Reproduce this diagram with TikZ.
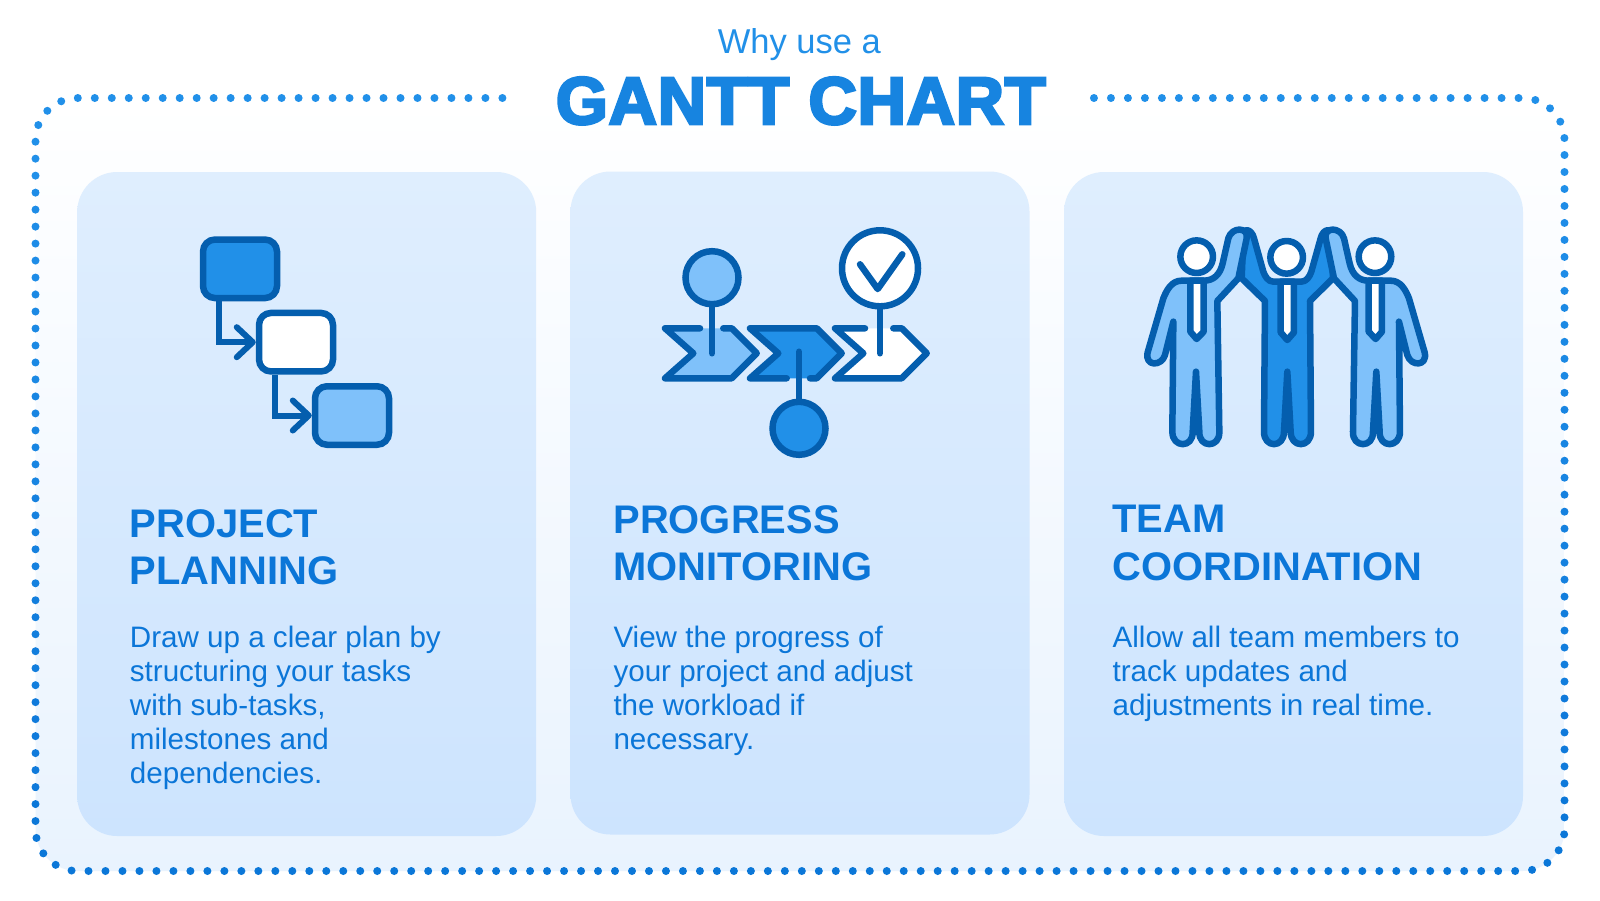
\documentclass[tikz,border=0pt]{standalone}
\usepackage{fontspec}
\setmainfont{Liberation Sans}
\newfontfamily\titlefont[UprightFont={* Bold},FakeBold=4,LetterSpace=1]{Liberation Sans}
\usetikzlibrary{arrows.meta}
\definecolor{dotblue}{HTML}{2190E9}
\definecolor{textblue}{HTML}{0B76D8}
\definecolor{titleblue}{HTML}{1784E0}
\definecolor{linkblue}{HTML}{045EAE}
\definecolor{midblue}{HTML}{2190E8}
\definecolor{paleblue}{HTML}{7FC1FA}
\definecolor{cardtop}{HTML}{DFEEFE}
\definecolor{cardlow}{HTML}{CDE4FE}
\definecolor{lowblue}{HTML}{E9F3FE}
\tikzset{
    cardbox/.style={rectangle, rounded corners=40pt, inner sep=0pt, minimum width=459pt, minimum height=664pt, top color=cardtop, bottom color=cardlow},
    headtext/.style={font=\bfseries\fontsize{39.9}{47.4}\selectfont, text=textblue, align=left, inner sep=0pt, anchor=north west},
    bodytext/.style={font=\fontsize{29.6}{34}\selectfont, text=textblue, align=left, inner sep=0pt, anchor=north west},
    dotframe/.style={line width=8pt, line cap=round, dash pattern=on 0pt off 16.984pt},
    planbox/.style={draw=linkblue, line width=6.5pt, rectangle, rounded corners=12pt, inner sep=0pt, minimum width=74pt, minimum height=58.5pt},
    flowarrow/.style={draw=linkblue, line width=6pt, -{Straight Barb[length=16pt, width=30pt, round, line width=6pt]}},
    iconline/.style={draw=linkblue, line width=6.5pt, line cap=round, line join=round},
    pinhead/.style={draw=linkblue, line width=6.5pt, circle, inner sep=0pt, minimum size=53pt},
    manhead/.style={draw=linkblue, line width=6.5pt, circle, inner sep=0pt, minimum size=32.6pt, fill=white}
}
\newcommand{\sideman}{
    \path[iconline, fill=paleblue] (241,197) -- (215,197) .. controls (185,197) and (170,225) .. (160,250) -- (113,412) .. controls (103,455) and (155,455) .. (165,420) -- (190,320) -- (187,650) .. controls (187,700) and (250,700) .. (248,650) -- (258,470) -- (268,650) .. controls (266,700) and (330,700) .. (328,650) -- (322,258) -- (385,190) -- (410,70) .. controls (416,35) and (365,35) .. (355,70) -- (338,145) .. controls (330,180) and (310,197) .. (281,197) -- cycle;
    \path[iconline, fill=white] (241,197) -- (241,350) -- (260,372) -- (281,350) -- (281,197) -- cycle;
}

\begin{document}
\begin{tikzpicture}[x=1pt, y=-1pt]
    \useasboundingbox (0,0) rectangle (1600,900);
    \fill[white] (0,0) rectangle (1600,900);
    \path[shade, top color=white, bottom color=lowblue, rounded corners=42pt] (35.5,98) rectangle (1564.5,871);

    \foreach \band in {0,...,7} {
        \pgfmathsetmacro{\mixval}{100-\band*14}
        \begin{scope}
            \clip (0,{90+\band*100}) rectangle (1600,{190+\band*100});
            \draw[dotframe, color=dotblue!\mixval!textblue, rounded corners=42pt] (502.4,98) -- (35.5,98) -- (35.5,871) -- (1564.5,871) -- (1564.5,98) -- (1093.5,98);
        \end{scope}
    }

    \node[font=\fontsize{34.5}{40}\selectfont, text=midblue, inner sep=0pt, anchor=base] (whyline) at (799.4,53) {Why use a};
    \node[font=\titlefont\fontsize{67}{70}\selectfont, text=titleblue, inner sep=0pt, anchor=base] (ganttline) at (800.8,124) {GANTT CHART};

    \node[cardbox] (planning) at (306.7,504) {};
    \node[cardbox, minimum height=663pt] (progress) at (800,503) {};
    \node[cardbox] (team) at (1293.5,504) {};

    \node[headtext] (planninghead) at (129.7,509) {PROJECT\\PLANNING};
    \node[bodytext] (planningbody) at (129.7,626) {Draw up a clear plan by\\structuring your tasks\\with sub-tasks,\\milestones and\\dependencies.};
    \node[headtext] (progresshead) at (613.3,505) {PROGRESS\\MONITORING};
    \node[bodytext] (progressbody) at (613.3,626) {View the progress of\\your project and adjust\\the workload if\\necessary.};
    \node[headtext] (teamhead) at (1112.4,505) {TEAM\\COORDINATION};
    \node[bodytext] (teambody) at (1112.4,626) {Allow all team members to\\track updates and\\adjustments in real time.};

    \node[planbox, fill=midblue] (taskone) at (240,268.8) {};
    \node[planbox, fill=white] (tasktwo) at (296,342.2) {};
    \node[planbox, fill=paleblue] (taskthree) at (352,415.5) {};
    \draw[flowarrow] ([xshift=19.5pt]taskone.south west) |- (tasktwo.west);
    \draw[flowarrow] ([xshift=19.5pt]tasktwo.south west) |- (taskthree.west);

    \fill[paleblue] (665,328.3) -- (693.3,353.3) -- (665,378.3) -- (731.7,378.3) -- (756.7,353.3) -- (731.7,328.3) -- cycle;
    \draw[iconline] (700,328.3) -- (665,328.3) -- (693.3,353.3) -- (665,378.3) -- (731.7,378.3) -- (756.7,353.3) -- (731.7,328.3) -- (723.3,328.3);
    \fill[midblue] (750,328.3) -- (778.3,353.3) -- (750,378.3) -- (816.7,378.3) -- (841.7,353.3) -- (816.7,328.3) -- cycle;
    \draw[iconline] (786.7,378.3) -- (750,378.3) -- (778.3,353.3) -- (750,328.3) -- (816.7,328.3) -- (841.7,353.3) -- (816.7,378.3) -- (810,378.3);
    \fill[white] (835,328.3) -- (863.3,353.3) -- (835,378.3) -- (901.7,378.3) -- (926.7,353.3) -- (901.7,328.3) -- cycle;
    \draw[iconline] (865,328.3) -- (835,328.3) -- (863.3,353.3) -- (835,378.3) -- (901.7,378.3) -- (926.7,353.3) -- (901.7,328.3) -- (893.3,328.3);

    \node[pinhead, fill=paleblue] (pinone) at (712,277.7) {};
    \node[pinhead, fill=midblue] (pintwo) at (799,428.3) {};
    \node[pinhead, fill=white, minimum size=76pt] (pinthree) at (880,268.3) {};
    \coordinate (stemone) at (712,353.3);
    \coordinate (stemtwo) at (799,351.7);
    \coordinate (stemthree) at (880,353.3);
    \draw[iconline] (pinone) -- (stemone);
    \draw[iconline] (pintwo) -- (stemtwo);
    \draw[iconline] (pinthree) -- (stemthree);
    \draw[iconline] (860,264.3) -- (877.7,289) -- (902.3,254.3);

    \begin{scope}[shift={(1110,215)}, x=0.3333pt, y=-0.3333pt]
        \path[iconline, fill=midblue] (512,200) -- (490,200) .. controls (475,200) and (465,185) .. (460,170) -- (432,70) .. controls (425,40) and (395,35) .. (400,70) -- (395,190) -- (465,258) -- (462,650) .. controls (462,700) and (522,700) .. (522,650) -- (532,470) -- (542,650) .. controls (542,700) and (603,700) .. (603,650) -- (600,258) -- (669,190) -- (664,70) .. controls (669,35) and (639,40) .. (632,70) -- (604,170) .. controls (599,185) and (589,200) .. (574,200) -- (552,200) -- cycle;
        \path[iconline, fill=white] (512,200) -- (512,352) -- (532,375) -- (552,352) -- (552,200) -- cycle;
        \sideman
        \begin{scope}[shift={(1057,0)}, x=-0.3333pt]
            \sideman
        \end{scope}
        \node[manhead] (headone) at (260,125) {};
        \node[manhead] (headtwo) at (530,127) {};
        \node[manhead] (headthree) at (795,125) {};
    \end{scope}
\end{tikzpicture}
\end{document}
